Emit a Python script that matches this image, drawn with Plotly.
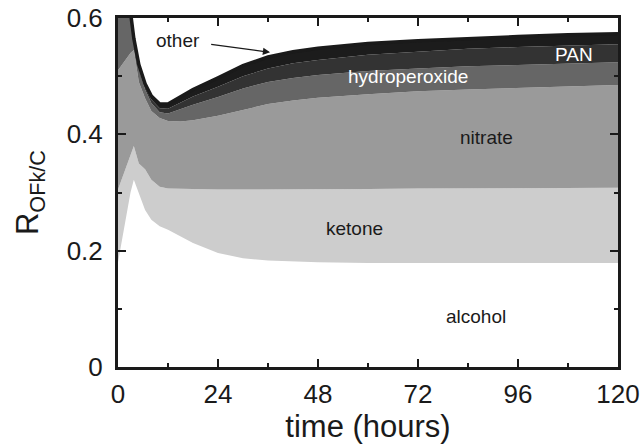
import plotly.graph_objects as go

# time axis (hours)
time_h = [0, 1, 2, 3, 3.8, 5, 6.5, 8, 10, 12, 15, 18, 24, 30, 36, 42, 48, 60, 72, 84, 96, 108, 120]

# contribution of each functional group (stacked, bottom to top)
alcohol = [0.180, 0.220, 0.260, 0.300, 0.322, 0.300, 0.270, 0.253, 0.242, 0.236, 0.225, 0.213,
           0.196, 0.187, 0.183, 0.181, 0.180, 0.179, 0.179, 0.179, 0.179, 0.179, 0.179]
ketone = [0.125, 0.105, 0.085, 0.065, 0.058, 0.050, 0.070, 0.069, 0.068, 0.071, 0.081, 0.093,
          0.109, 0.118, 0.122, 0.124, 0.126, 0.127, 0.128, 0.128, 0.128, 0.129, 0.129]
nitrate = [0.205, 0.195, 0.185, 0.175, 0.165, 0.140, 0.122, 0.118, 0.118, 0.116, 0.116, 0.118,
           0.127, 0.137, 0.147, 0.153, 0.157, 0.163, 0.167, 0.170, 0.173, 0.175, 0.177]
hydroperoxide = [0.680, 0.420, 0.210, 0.062, 0.014, 0.022, 0.015, 0.014, 0.010, 0.013, 0.022, 0.027,
                 0.032, 0.037, 0.038, 0.039, 0.039, 0.040, 0.039, 0.040, 0.039, 0.039, 0.039]
pan = [0.005, 0.005, 0.005, 0.004, 0.003, 0.004, 0.005, 0.006, 0.007, 0.008, 0.011, 0.014,
       0.018, 0.021, 0.023, 0.025, 0.026, 0.028, 0.029, 0.030, 0.031, 0.031, 0.031]
other = [0.005, 0.005, 0.005, 0.004, 0.003, 0.004, 0.005, 0.006, 0.007, 0.008, 0.010, 0.012,
         0.015, 0.018, 0.020, 0.020, 0.020, 0.019, 0.019, 0.018, 0.018, 0.018, 0.018]

groups = [
    ('alcohol', alcohol, '#ffffff'),
    ('ketone', ketone, '#cdcdcd'),
    ('nitrate', nitrate, '#9a9a9a'),
    ('hydroperoxide', hydroperoxide, '#666666'),
    ('PAN', pan, '#333333'),
    ('other', other, '#1c1c1c'),
]

FONT = 'Liberation Sans, Arial, sans-serif'

fig = go.Figure()
for name, vals, color in groups:
    is_top = name == 'other'
    fig.add_trace(go.Scatter(
        x=time_h, y=vals, name=name, stackgroup='one', mode='lines',
        fillcolor=color,
        line=dict(color='#1a1a1a' if is_top else color, width=3.5 if is_top else 0),
    ))

# group labels
labels = [
    ('alcohol', 86.0, 0.087, '#1a1a1a'),
    ('ketone', 56.8, 0.238, '#1a1a1a'),
    ('nitrate', 88.5, 0.394, '#1a1a1a'),
    ('hydroperoxide', 69.7, 0.499, '#ffffff'),
    ('PAN', 109.5, 0.537, '#ffffff'),
    ('other', 14.3, 0.562, '#1a1a1a'),
]
for txt, x, y, c in labels:
    fig.add_annotation(x=x, y=y, text=txt, showarrow=False,
                       font=dict(family=FONT, size=19, color=c))

# arrow from "other" to the top band
fig.add_annotation(x=36.5, y=0.541, ax=22.0, ay=0.555, axref='x', ayref='y',
                   text='', showarrow=True, arrowhead=2, arrowsize=1.2,
                   arrowwidth=1.2, arrowcolor='#1a1a1a')

axis_common = dict(
    showline=True, linecolor='#1a1a1a', linewidth=3, mirror='ticks',
    ticks='inside', ticklen=8, tickwidth=2, tickcolor='#1a1a1a',
    showgrid=False, zeroline=False, automargin=False,
    tickfont=dict(family=FONT, size=26, color='#1a1a1a'),
)

fig.update_xaxes(
    range=[0, 120], tickvals=[0, 24, 48, 72, 96, 120],
    minor=dict(tickvals=[12, 36, 60, 84, 108], ticks='inside', ticklen=4,
               tickwidth=2, tickcolor='#1a1a1a'),
    ticklabeloverflow='allow', ticklabelstandoff=2,
    title=dict(text='time (hours)', font=dict(family=FONT, size=31, color='#1a1a1a'),
               standoff=4),
    **axis_common,
)
fig.update_yaxes(
    range=[0, 0.6], tickvals=[0, 0.2, 0.4, 0.6], ticktext=['0', '0.2', '0.4', '0.6'],
    minor=dict(tickvals=[0.1, 0.3, 0.5], ticks='inside', ticklen=4,
               tickwidth=2, tickcolor='#1a1a1a'),
    ticklabeloverflow='allow', ticklabelstandoff=7,
    title=dict(text='R<sub>OFk/C</sub>', font=dict(family=FONT, size=31, color='#1a1a1a'),
               standoff=19),
    **axis_common,
)

fig.update_layout(
    width=640, height=446,
    margin=dict(l=118, r=22, t=18, b=79),
    plot_bgcolor='white', paper_bgcolor='white',
    showlegend=False,
)

# drop the default 8px page margin so the figure fills the window exactly
fig.write_html('out.html', config={'displayModeBar': False},
               post_script="document.body.style.margin='0';")
